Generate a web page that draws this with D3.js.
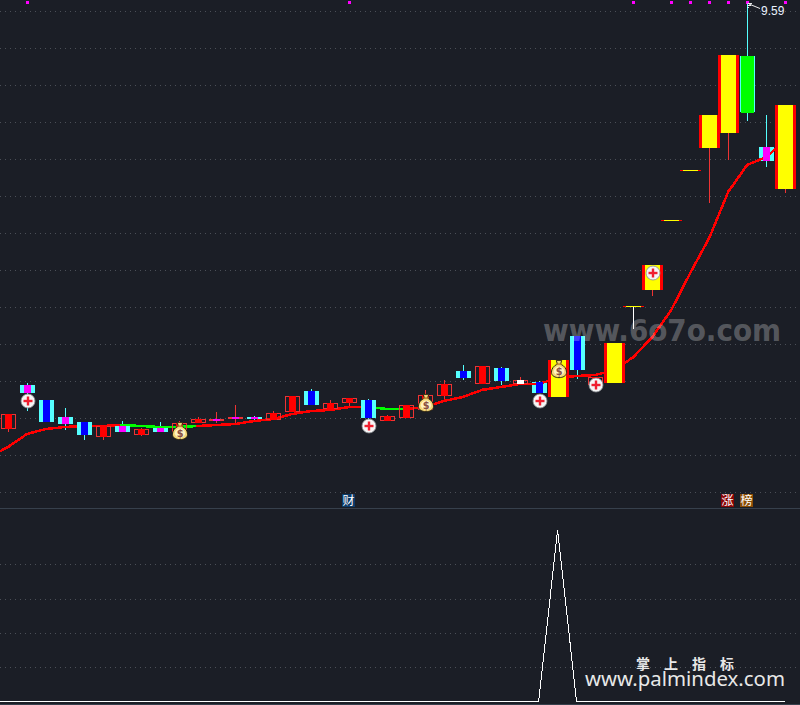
<!DOCTYPE html>
<html><head><meta charset="utf-8">
<script src="https://cdn.jsdelivr.net/npm/d3@7/dist/d3.min.js"></script>
<style>html,body{margin:0;padding:0;background:#1b1e26;overflow:hidden}svg{display:block}</style>
</head><body><div id="c"></div>
<script>
const kinds=["R","M","B","M","B","R","M","R","M","R","R","X","X","M","R","R","B","R","R","B","R","R","R","R","B","R","B","W","B","Y","B","R","Y","Y","Y","Y","Y","Y","Y","G","M","Y"];
const bodyTop=[5.48,5.77,5.62,5.45,5.40,5.36,5.36,5.33,5.34,5.39,5.43,5.43,5.45,5.45,5.49,5.66,5.71,5.59,5.64,5.62,5.46,5.57,5.67,5.78,5.91,5.96,5.94,5.82,5.80,6.02,6.26,5.85,6.19,6.56,6.97,7.42,7.92,8.47,9.07,9.06,8.15,8.57];
const bodyBot=[5.33,5.69,5.40,5.38,5.27,5.25,5.30,5.27,5.30,5.30,5.39,5.41,5.43,5.43,5.42,5.50,5.57,5.53,5.59,5.44,5.41,5.44,5.52,5.66,5.84,5.78,5.81,5.78,5.69,5.65,5.92,5.77,5.79,6.56,6.72,7.42,7.92,8.14,8.29,8.50,8.01,7.73];
const highs=[5.48,5.79,5.62,5.54,5.40,5.36,5.41,5.34,5.40,5.41,5.45,5.50,5.57,5.46,5.51,5.66,5.73,5.62,5.64,5.63,5.47,5.57,5.72,5.82,5.97,5.96,5.95,5.85,5.81,6.02,6.26,5.85,6.19,6.56,6.97,7.42,7.92,8.47,9.07,9.59,8.47,8.57];
const lows=[5.30,5.51,5.40,5.32,5.22,5.22,5.30,5.26,5.30,5.28,5.39,5.39,5.39,5.42,5.42,5.50,5.57,5.53,5.56,5.42,5.41,5.44,5.52,5.63,5.82,5.78,5.77,5.78,5.69,5.65,5.83,5.77,5.79,6.33,6.66,7.42,7.92,7.59,8.02,8.41,7.95,7.69];
const maIndex=[-1].concat(d3.range(42));
const maValues=[5.05,5.15,5.28,5.33,5.35,5.36,5.36,5.37,5.36,5.35,5.35,5.36,5.37,5.38,5.41,5.43,5.48,5.51,5.52,5.55,5.55,5.53,5.53,5.55,5.61,5.65,5.72,5.75,5.78,5.78,5.84,5.86,5.87,5.92,6.05,6.25,6.52,6.89,7.24,7.70,7.97,8.05,8.21];
const greenSegments=[6,7,8,9,19,20];
const lineOverIdx=[28,40];
const plusIdx=[1,19,28,31,34], plusPrice=[5.61,5.36,5.61,5.77,6.89];
const bagIdx=[9,22,29], bagPrice=[5.31,5.59,5.93];
const topMarkIdx=[1,18,33,35,36,37,38,39,41];
const badgeIdx=[18,38,39], badgeText=["财","涨","榜"], badgeColor=["#0b3a68","#8a0505","#8a4d05"];
const lowerValues=maIndex.map(i=>i===29?100:0);
const gridPrices=d3.range(0,14).map(k=>9.51-0.37*k);
const lowerGrid=[20,40,60,80];
const peakLabel="9.59";

const W=800,H=705;
const x=d3.scaleLinear().domain([0,41]).range([8,785]);
const y=d3.scaleLinear().domain([9.62,4.62]).range([0,500]);
const yl=d3.scaleLinear().domain([0,100]).range([701.5,530]);
const xp=i=>Math.round(x(i));
const svg=d3.select("#c").append("svg").attr("width",W).attr("height",H);
svg.append("rect").attr("width",W).attr("height",H).attr("fill","#1b1e26");

// grids
svg.append("g").selectAll("line").data(gridPrices).join("line")
 .attr("x1",0).attr("x2",W).attr("y1",d=>Math.round(y(d))+.5).attr("y2",d=>Math.round(y(d))+.5)
 .attr("stroke","#4b4f57").attr("stroke-dasharray","1 4");
svg.append("g").selectAll("line").data(lowerGrid).join("line")
 .attr("x1",0).attr("x2",W).attr("y1",d=>Math.round(yl(d))+.5).attr("y2",d=>Math.round(yl(d))+.5)
 .attr("stroke","#4b4f57").attr("stroke-dasharray","1 4");
svg.append("line").attr("x1",0).attr("x2",W).attr("y1",508.5).attr("y2",508.5).attr("stroke","#37404c");
svg.append("line").attr("x1",0).attr("x2",W).attr("y1",704.5).attr("y2",704.5).attr("stroke","#37404c");

const idx=d3.range(42);
const wickCol=i=>{const k=kinds[i];
 if(k==="M"||k==="B"||k==="G")return "#55ffff";
 if(i===33)return "#ffffff";
 return "#ee3333";};
const crisp=s=>s.attr("shape-rendering","crispEdges");
// wicks
crisp(svg.append("g").selectAll("rect").data(idx).join("rect")
 .attr("x",i=>xp(i)).attr("width",1)
 .attr("y",i=>y(highs[i])).attr("height",i=>y(lows[i])-y(highs[i]))
 .attr("fill",wickCol));

function outer(g,list,col){
 crisp(g.selectAll(null).data(list).join("rect")
  .attr("x",i=>xp(i)-7).attr("width",15)
  .attr("y",i=>y(bodyTop[i])).attr("height",i=>Math.max(1,y(bodyBot[i])-y(bodyTop[i])))
  .attr("fill",col));
}
function inner(g,list,col){
 crisp(g.selectAll(null).data(list).join("rect")
  .attr("x",i=>xp(i)-3).attr("width",7)
  .attr("y",i=>y(bodyTop[i])).attr("height",i=>Math.max(1,y(bodyBot[i])-y(bodyTop[i])))
  .attr("fill",col));
}
// candles below line
const under=svg.append("g");
outer(under,lineOverIdx.filter(i=>kinds[i]!=="Y"),"#55ffff");

// MA line
const lineG=svg.append("g");
const segs=maIndex.slice(0,-1).map((i,k)=>({i,a:maValues[k],b:maValues[k+1]}));
crisp(lineG.selectAll("line").data(segs).join("line")
 .attr("x1",d=>x(d.i)).attr("x2",d=>x(d.i+1))
 .attr("y1",d=>y(d.a)).attr("y2",d=>y(d.b))
 .attr("stroke",d=>greenSegments.includes(d.i)?"#00ff00":"#ff0000")
 .attr("stroke-width",2.5).attr("stroke-linecap","square"));

// candles above line
const over=svg.append("g");
const cyanK=idx.filter(i=>(kinds[i]==="B"||kinds[i]==="M")&&!lineOverIdx.includes(i));
outer(over,cyanK,"#55ffff");
inner(over,idx.filter(i=>kinds[i]==="B"),"#0000ff");
inner(over,idx.filter(i=>kinds[i]==="M"),"#ff00ff");
// hollow red
const hollow=idx.filter(i=>["R","W"].includes(kinds[i]));
crisp(over.selectAll(null).data(hollow).join("rect")
 .attr("x",i=>xp(i)-6.5).attr("width",14)
 .attr("y",i=>Math.round(y(bodyTop[i]))+.5).attr("height",i=>Math.round(y(bodyBot[i])-y(bodyTop[i]))-1)
 .attr("fill","none").attr("stroke","#ee3333"));
inner(over,idx.filter(i=>kinds[i]==="R"),"#ff0000");
inner(over,idx.filter(i=>kinds[i]==="W"),"#ffffff");
// thin red/magenta
outer(over,idx.filter(i=>kinds[i]==="X"),"#ee3333");
inner(over,idx.filter(i=>kinds[i]==="X"),"#ff00ff");
// green
const greens=idx.filter(i=>kinds[i]==="G");
outer(over,greens,"#55ffff");
crisp(over.selectAll(null).data(greens).join("rect")
 .attr("x",i=>xp(i)-6).attr("width",13)
 .attr("y",i=>y(bodyTop[i])).attr("height",i=>y(bodyBot[i])-y(bodyTop[i])+1)
 .attr("fill","#00ff00"));
// limit-up yellow
const yel=idx.filter(i=>kinds[i]==="Y");
const bh=i=>Math.max(1,y(bodyBot[i])-y(bodyTop[i]));
const by=i=>y(bodyTop[i]);
crisp(over.selectAll(null).data(yel).join("rect")
 .attr("x",i=>xp(i)-10).attr("width",21).attr("y",by).attr("height",bh).attr("fill","#ff0000"));
crisp(over.selectAll(null).data(yel).join("rect")
 .attr("x",i=>xp(i)-7).attr("width",15).attr("y",by).attr("height",bh).attr("fill","#ffff00"));

// top markers
crisp(svg.append("g").selectAll("rect").data(topMarkIdx).join("rect")
 .attr("x",i=>xp(i)-1).attr("width",3).attr("y",1).attr("height",3).attr("fill","#ff00ff"));

// plus icons
const pg=svg.append("g").selectAll("g").data(plusIdx).join("g")
 .attr("transform",(i,k)=>`translate(${xp(i)+1},${y(plusPrice[k])})`);
pg.append("circle").attr("r",7).attr("fill","#f6f6f6").attr("stroke","#8a8d92").attr("stroke-width",.8);
pg.append("rect").attr("x",-4.5).attr("y",-1.2).attr("width",9).attr("height",2.4).attr("fill","#f02030");
pg.append("rect").attr("x",-1.2).attr("y",-4.5).attr("width",2.4).attr("height",9).attr("fill","#f02030");

// money bags
const bg=svg.append("g").selectAll("g").data(bagIdx).join("g")
 .attr("transform",(i,k)=>`translate(${xp(i)+1},${y(bagPrice[k])}) scale(1.08)`);
bg.append("path").attr("d","M-2.5,-8 L2.5,-8 L1.5,-4.5 C5,-3 7,0 7,3 C7,6.5 3.5,8 0,8 C-3.5,8 -7,6.5 -7,3 C-7,0 -5,-3 -1.5,-4.5 Z")
 .attr("fill","#f4d878").attr("stroke","#2a2010").attr("stroke-width",.9);
bg.append("ellipse").attr("cx",0).attr("cy",2).attr("rx",4.8).attr("ry",4.2).attr("fill","#fff2c0");
bg.append("rect").attr("x",-2.5).attr("y",-5.2).attr("width",5).attr("height",1.3).attr("fill","#b8802a");
bg.append("text").attr("y",5.5).attr("text-anchor","middle").attr("font-family","DejaVu Sans").attr("font-weight","bold").attr("font-size",9).attr("fill","#8a5040").text("$");

// lower panel line
const lowerLine=d3.line().x((d,k)=>x(maIndex[k])).y(d=>yl(d));
crisp(svg.append("path").datum(lowerValues).attr("d",lowerLine).attr("fill","none").attr("stroke","#ffffff").attr("stroke-width",1));

// peak label
svg.append("path").attr("d","M747.5,3.5H752M747.5,5.5H751M747.5,7.5H749M749,4L760,8.5").attr("stroke","#fff").attr("fill","none").attr("stroke-width",.9);
svg.append("text").attr("x",761).attr("y",15).attr("font-family","Liberation Sans").attr("font-size",12).attr("fill","#eaf2ff").text(peakLabel);

// badges
const bd=svg.append("g").selectAll("g").data(badgeIdx).join("g").attr("transform",i=>`translate(${xp(i)-7},494)`);
bd.append("rect").attr("width",13).attr("height",13).attr("fill",(d,k)=>badgeColor[k]);
bd.append("text").attr("x",6.5).attr("y",11).attr("text-anchor","middle").attr("font-family","Noto Sans CJK SC").attr("font-size",12).attr("fill","#fff").text((d,k)=>badgeText[k]);

// watermarks
svg.append("text").attr("x",543).attr("y",341).attr("font-family","DejaVu Sans").attr("font-weight","bold").attr("font-size",30)
 .attr("textLength",238).attr("lengthAdjust","spacingAndGlyphs").attr("fill","rgba(255,255,255,0.27)").text("www.6o7o.com");
const wm=["掌","上","指","标"], wmx=[643,671,699,727];
svg.append("g").selectAll("text").data(wm).join("text").attr("x",(d,k)=>wmx[k]).attr("y",669).attr("text-anchor","middle")
 .attr("font-family","Noto Sans CJK SC").attr("font-weight","bold").attr("font-size",14).attr("fill","#e8e8e8").text(d=>d);
svg.append("text").attr("x",585).attr("y",685.5).attr("font-family","Noto Sans").attr("font-size",19)
 .attr("textLength",200).attr("lengthAdjust","spacingAndGlyphs").attr("fill","#e8e8e8").text("www.palmindex.com");
</script></body></html>
